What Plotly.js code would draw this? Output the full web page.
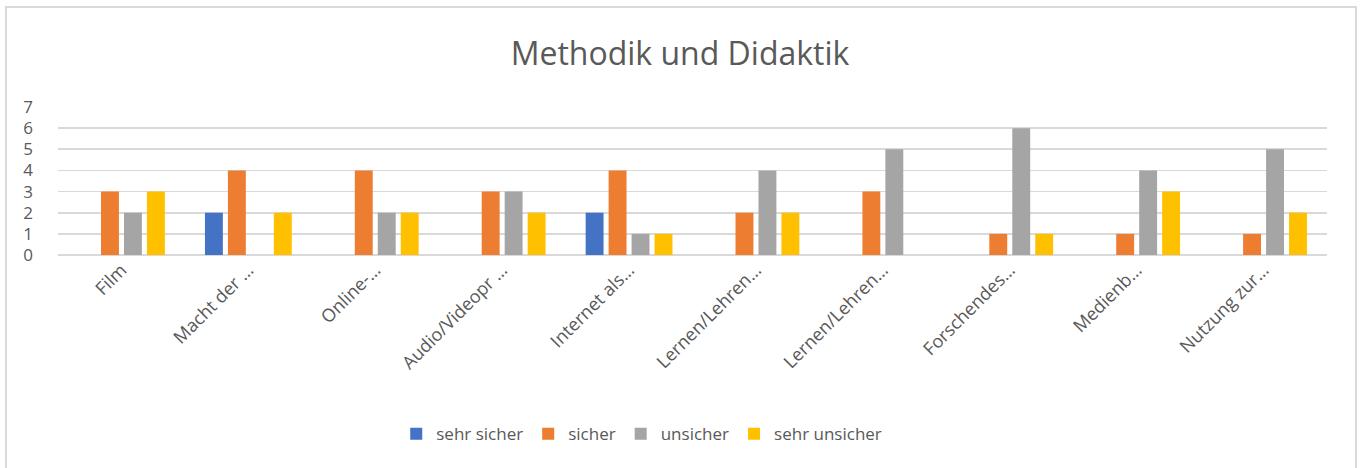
<!DOCTYPE html>
<html>
<head>
<meta charset="utf-8">
<script src="https://cdn.plot.ly/plotly-3.0.1.min.js"></script>
<style>
  html, body { margin: 0; padding: 0; background: #ffffff; }
  #chart { position: absolute; left: 0; top: 0; width: 1360px; height: 468px; }
  #frame { position: absolute; left: 5px; top: 6px; width: 1348px; height: 470px;
           border: 2px solid #d9d9d9; pointer-events: none; }
</style>
</head>
<body>
<div id="chart"></div>
<div id="frame"></div>
<script>
const categories = ["Film", "Macht der …", "Online-…", "Audio/Videopr …", "Internet als…",
                    "Lernen/Lehren…", "Lernen/Lehren…", "Forschendes…", "Medienb…", "Nutzung zur…"];
const seriesNames = ["sehr sicher", "sicher", "unsicher", "sehr unsicher"];
const sehrSicher   = [0, 2, 0, 0, 2, 0, 0, 0, 0, 0];
const sicher       = [3, 4, 4, 3, 4, 2, 3, 1, 1, 1];
const unsicher     = [2, 0, 2, 3, 1, 4, 5, 6, 4, 5];
const sehrUnsicher = [3, 2, 2, 2, 1, 2, 0, 1, 3, 2];
const colors = ["#4472C4", "#ED7D31", "#A5A5A5", "#FFC000"];
const yTicks = [0, 1, 2, 3, 4, 5, 6, 7];

const xIdx = categories.map((_, i) => i);
const values = [sehrSicher, sicher, unsicher, sehrUnsicher];
const font = "'Open Sans', 'Noto Sans', sans-serif";

const traces = values.map((v, k) => ({
  type: "bar",
  name: seriesNames[k],
  x: xIdx,
  y: v,
  marker: { color: colors[k], line: { width: 0 } },
  hoverinfo: "y+name"
}));

const layout = {
  width: 1360,
  height: 468,
  paper_bgcolor: "#ffffff",
  plot_bgcolor: "#ffffff",
  margin: { l: 58, r: 33, t: 107, b: 213 },
  title: {
    text: "Methodik und Didaktik",
    font: { family: font, size: 32, color: "#595959" },
    x: 0.5, xanchor: "center",
    y: 0.885, yanchor: "middle", yref: "container"
  },
  barmode: "group",
  bargap: 0.276,
  bargroupgap: 0.22,
  xaxis: {
    type: "linear",
    range: [-0.5, categories.length - 0.5],
    tickvals: xIdx,
    ticktext: categories,
    tickangle: -45,
    tickfont: { family: font, size: 18, color: "#595959" },
    showgrid: false,
    zeroline: false,
    showline: false,
    ticks: "",
    fixedrange: true
  },
  yaxis: {
    range: [0, 7],
    tickvals: yTicks,
    ticktext: yTicks.map(String),
    tickfont: { family: font, size: 17, color: "#595959" },
    showgrid: true,
    gridcolor: "#d9d9d9",
    gridwidth: 1.6,
    zeroline: true,
    zerolinecolor: "#d9d9d9",
    zerolinewidth: 1.6,
    showline: false,
    ticks: "",
    ticklabelstandoff: 24,
    fixedrange: true
  },
  showlegend: true,
  legend: {
    orientation: "h",
    x: 0.46, xanchor: "center",
    y: -1.21, yanchor: "middle",
    font: { family: font, size: 17, color: "#595959" },
    itemwidth: 30,
    traceorder: "normal"
  }
};

Plotly.newPlot("chart", traces, layout, { displayModeBar: false, staticPlot: true });
</script>
</body>
</html>
